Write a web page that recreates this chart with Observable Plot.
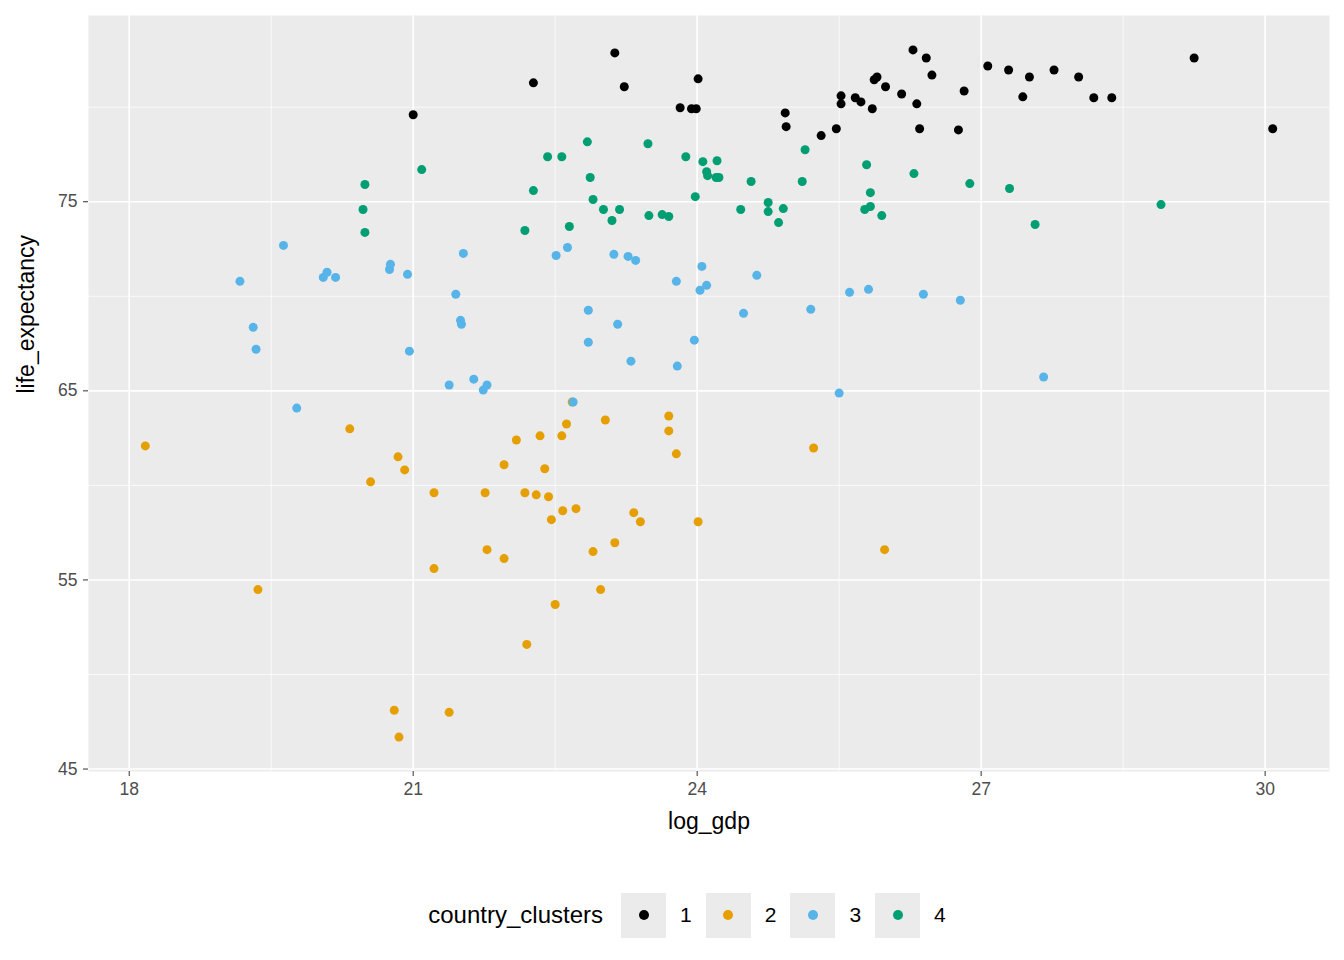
<!DOCTYPE html>
<html><head><meta charset="utf-8">
<script src="https://cdn.jsdelivr.net/npm/d3@7"></script>
<script src="https://cdn.jsdelivr.net/npm/@observablehq/plot@0.6"></script>
<style>
body{margin:0;background:#fff;font-family:"Liberation Sans",Arial,sans-serif}
#legend{display:flex;align-items:center;justify-content:center;height:70px;font-size:24px;color:#000;margin-left:40px}
.key{width:45px;height:45px;background:#EBEBEB;display:flex;align-items:center;justify-content:center;margin-left:4px}
.dot{width:10px;height:10px;border-radius:50%}
.lab{margin:0 10px 0 14px;font-size:21px}
</style></head><body>
<div id="chart"></div>
<div id="legend"></div>
<script>
const clusters = ["1", "2", "3", "4"]
const colors = ["#000000", "#E69F00", "#56B4E9", "#009E73"]

const gdp1 = [23.13,22.27,23.23,24.01,21.0,23.82,23.94,23.99,24.93,24.94,25.31,25.47,25.52,25.52,25.67,25.73,25.85,25.87,25.9,25.99,26.16,26.28,26.32,26.35,26.42,26.48,26.76,26.82,27.07,27.29,27.44,27.51,27.77,28.03,28.19,28.38,29.25,30.08]
const life1 = [82.87,81.29,81.08,81.5,79.6,79.97,79.92,79.92,79.7,78.97,78.5,78.86,80.6,80.18,80.5,80.28,79.92,81.45,81.6,81.08,80.7,83.03,80.18,78.86,82.6,81.7,78.8,80.86,82.18,81.97,80.55,81.6,81.97,81.6,80.5,80.5,82.6,78.86]

const gdp2 = [18.17,20.33,20.55,20.84,20.91,21.22,21.22,20.8,20.85,21.38,19.36,21.76,21.78,21.96,21.96,22.09,22.18,22.2,22.3,22.34,22.39,22.43,22.46,22.5,22.57,22.58,22.62,22.68,22.72,22.9,22.98,23.03,23.13,23.33,23.4,23.7,23.7,23.78,24.01,25.23,25.98]
const life2 = [62.09,62.99,60.19,61.51,60.82,59.61,55.6,48.11,46.69,48.0,54.49,59.61,56.6,61.09,56.13,62.4,59.61,51.59,59.5,62.62,60.88,59.4,58.19,53.7,62.62,58.66,63.25,64.41,58.77,56.5,54.49,63.46,56.97,58.56,58.08,63.67,62.88,61.67,58.08,61.98,56.6]

const gdp3 = [19.17,19.31,19.34,19.63,19.77,20.05,20.09,20.18,20.75,20.76,20.94,20.96,21.38,21.45,21.5,21.51,21.53,21.64,21.74,21.78,22.51,22.63,22.69,22.85,22.85,23.12,23.16,23.27,23.3,23.35,23.78,23.79,23.97,24.03,24.05,24.1,24.49,24.63,25.2,25.5,25.61,25.81,26.39,26.78,27.66]
const life3 = [70.79,68.36,67.2,72.69,64.09,71.0,71.27,71.0,71.42,71.69,71.16,67.1,65.31,70.11,68.73,68.52,72.27,65.62,65.04,65.31,72.16,72.58,64.41,69.26,67.57,72.22,68.52,72.11,66.57,71.9,70.79,66.31,67.68,70.32,71.58,70.58,69.1,71.11,69.31,64.88,70.21,70.37,70.11,69.79,65.73]

const gdp4 = [20.47,20.49,20.49,21.09,22.18,22.27,22.42,22.57,22.65,22.84,22.87,22.9,23.01,23.1,23.18,23.48,23.49,23.63,23.7,23.88,23.98,24.06,24.1,24.11,24.2,24.21,24.23,24.46,24.57,24.75,24.75,24.86,24.91,25.11,25.14,25.77,25.79,25.83,25.83,25.95,26.29,26.88,27.3,27.57,28.9]
const life4 = [74.59,75.91,73.38,76.7,73.48,75.59,77.38,77.38,73.69,78.17,76.28,75.12,74.59,74.01,74.59,78.07,74.27,74.32,74.22,77.38,75.27,77.12,76.59,76.38,76.28,77.17,76.28,74.59,76.07,74.96,74.48,73.9,74.64,76.07,77.75,74.59,76.96,75.48,74.75,74.27,76.49,75.96,75.7,73.8,74.85]

const xTicks = [18, 21, 24, 27, 30]
const xMinor = [19.5, 22.5, 25.5, 28.5]
const yTicks = [45, 55, 65, 75]
const yMinor = [50, 60, 70, 80]

const groups = [[gdp1, life1], [gdp2, life2], [gdp3, life3], [gdp4, life4]]
const data = groups.flatMap(([g, l], i) => g.map((v, j) => ({log_gdp: v, life_expectancy: l[j], cluster: clusters[i]})))

const chart = Plot.plot({
  width: 1344,
  height: 880,
  marginLeft: 88,
  marginRight: 15,
  marginTop: 15,
  marginBottom: 109,
  style: {fontFamily: "Liberation Sans, Arial, sans-serif", fontSize: "17.5px", color: "#4D4D4D"},
  x: {domain: [17.57, 30.68], label: null},
  y: {domain: [44.87, 84.85], label: null},
  color: {domain: clusters, range: colors},
  marks: [
    Plot.frame({fill: "#EBEBEB", stroke: null}),
    Plot.ruleX(xMinor, {stroke: "#fff", strokeWidth: 0.7, strokeOpacity: 1}),
    Plot.ruleY(yMinor, {stroke: "#fff", strokeWidth: 0.7, strokeOpacity: 1}),
    Plot.ruleX(xTicks, {stroke: "#fff", strokeWidth: 1.6, strokeOpacity: 1}),
    Plot.ruleY(yTicks, {stroke: "#fff", strokeWidth: 1.6, strokeOpacity: 1}),
    Plot.dot(data, {x: "log_gdp", y: "life_expectancy", fill: "cluster", r: 4.5}),
    Plot.axisX({ticks: xTicks, tickSize: 5, tickPadding: 6, stroke: "#333", fontSize: 17.5, fill: "#4D4D4D", label: null}),
    Plot.axisY({ticks: yTicks, tickSize: 5, tickPadding: 6, stroke: "#333", fontSize: 17.5, fill: "#4D4D4D", label: null}),
    Plot.text(["log_gdp"], {frameAnchor: "bottom", dy: 57, fontSize: 23, fill: "#000"}),
    Plot.text(["life_expectancy"], {frameAnchor: "left", dx: -62, rotate: -90, fontSize: 23, fill: "#000"})
  ]
})
d3.select('#chart').append(() => chart)

const lg = d3.select('#legend')
lg.append('span').text('country_clusters').style('margin-right', '14px')
clusters.forEach((c, i) => {
  lg.append('div').attr('class', 'key').append('div').attr('class', 'dot').style('background', colors[i])
  lg.append('span').attr('class', 'lab').text(c)
})
</script>
</body></html>
